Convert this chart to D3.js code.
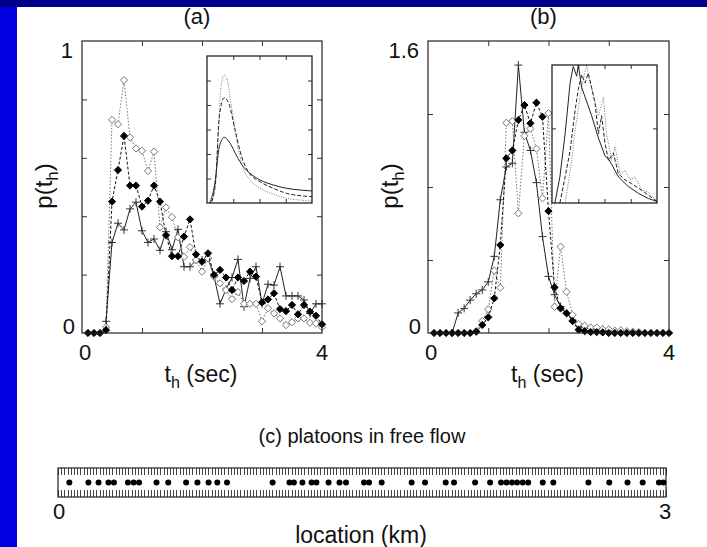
<!DOCTYPE html>
<html>
<head>
<meta charset="utf-8">
<script src="https://cdn.jsdelivr.net/npm/d3@7"></script>
<style>
  body { margin: 0; background: #fff; }
  svg { display: block; font-family: "Liberation Sans", Arial, sans-serif; }
</style>
</head>
<body>
<svg id="chart" width="707" height="547"></svg>
<script>
// ---- data ----

// headway bins (sec)
const binTimes = [0.1, 0.2, 0.3, 0.4, 0.5, 0.6, 0.7, 0.8, 0.9, 1.0,
  1.1, 1.2, 1.3, 1.4, 1.5, 1.6, 1.7, 1.8, 1.9, 2.0,
  2.1, 2.2, 2.3, 2.4, 2.5, 2.6, 2.7, 2.8, 2.9, 3.0,
  3.1, 3.2, 3.3, 3.4, 3.5, 3.6, 3.7, 3.8, 3.9, 4.0];

// panel (a)
const aPlus = [null, null, null, 0.04, 0.31, 0.376, 0.353, 0.425, 0.448, 0.35,
  0.31, 0.322, 0.283, 0.347, 0.285, 0.355, 0.227, 0.227, 0.25, 0.25,
  0.256, 0.195, 0.10, 0.15, 0.19, 0.252, 0.09, 0.187, 0.227, 0.10,
  0.167, 0.164, 0.227, 0.127, 0.127, 0.127, 0.113, 0.067, 0.10, 0.10];
const aOpen = [null, null, null, 0.02, 0.73, 0.715, 0.866, 0.67, 0.632, 0.624,
  0.555, 0.621, 0.362, 0.43, 0.397, 0.328, 0.261, 0.294, 0.25, 0.21,
  0.256, 0.193, 0.17, 0.147, 0.116, 0.14, 0.10, 0.10, 0.10, 0.04,
  0.085, 0.067, 0.05, 0.027, 0.037, 0.05, 0.05, 0.035, 0.033, 0.02];
const aFilled = [0, 0, 0, 0.01, 0.45, 0.558, 0.675, 0.505, 0.505, 0.433,
  0.453, 0.505, 0.45, 0.335, 0.263, 0.263, 0.33, 0.389, 0.269, 0.244,
  0.273, 0.199, 0.216, 0.19, 0.147, 0.19, 0.178, 0.21, 0.193, 0.105,
  0.115, 0.136, 0.082, 0.075, 0.096, 0.064, 0.096, 0.073, 0.059, 0.03];

// panel (b)
const bPlus = [null, null, null, 0, 0.11, 0.135, 0.18, 0.215, 0.236, 0.28,
  0.42, 0.73, 0.91, 0.93, 1.468, 1.10, 1.0, 0.824, 0.528, 0.31,
  0.21, 0.145, 0.108, 0.07, 0.04, 0.03, 0.025, 0.02, 0.02, 0.012,
  0.01, 0.008, 0.005, null, null, null, null, null, null, null];
const bOpen = [null, null, null, null, null, null, null, 0.01, 0.066, 0.13,
  0.342, 0.248, 1.152, 1.161, 0.656, 1.08, 1.12, 1.01, 0.738, 1.204,
  0.144, 0.473, 0.226, 0.099, 0.05, 0.04, 0.03, 0.03, 0.02, 0.02,
  0.012, 0.015, 0.01, 0.008, 0.005, null, null, null, null, null];
const bFilled = [0, 0, 0, 0, 0, 0, 0, 0.007, 0.044, 0.086,
  0.19, 0.482, 0.957, 1.0, 1.167, 1.249, 1.149, 1.262, 1.185, 0.668,
  0.25, 0.135, 0.108, 0.065, 0.018, 0.01, 0.005, 0.005, 0.003, 0,
  0, 0, 0, 0, 0, 0, 0, 0, 0, 0];

// inset of (a): smooth model curves
const inADotT = [0.11, 0.3, 0.43, 0.52, 0.65, 0.77, 0.94, 1.13, 1.38, 1.64, 2.02, 2.53, 3.03, 3.54, 4.0];
const inADotV = [0, 0.106, 0.569, 0.92, 1.045, 1.004, 0.773, 0.514, 0.283, 0.188, 0.12, 0.073, 0.038, 0.024, 0.016];
const inADashT = [0.18, 0.34, 0.47, 0.66, 0.85, 1.07, 1.32, 1.57, 2.02, 2.53, 3.03, 3.54, 4.0];
const inADashV = [0.01, 0.215, 0.705, 0.86, 0.80, 0.596, 0.378, 0.256, 0.174, 0.12, 0.079, 0.06, 0.052];
const inASolidT = [0.11, 0.3, 0.47, 0.66, 0.88, 1.13, 1.38, 1.64, 2.02, 2.53, 3.03, 3.54, 4.0];
const inASolidV = [0, 0.16, 0.46, 0.536, 0.487, 0.384, 0.297, 0.242, 0.188, 0.147, 0.12, 0.106, 0.098];

// inset of (b): noisy curves
const inBSolidT = [0.11, 0.3, 0.5, 0.69, 0.81, 0.94, 1.0, 1.13, 1.26, 1.51, 1.77, 2.02, 2.15, 2.27, 2.53, 2.91, 3.29, 3.67, 4.0];
const inBSolidV = [0, 0.35, 0.93, 1.61, 1.83, 1.70, 1.85, 1.55, 1.42, 1.17, 0.87, 0.63, 0.59, 0.52, 0.35, 0.22, 0.13, 0.06, 0.02];
const inBDashT = [0.3, 0.5, 0.69, 0.88, 1.0, 1.13, 1.26, 1.38, 1.51, 1.64, 1.77, 1.89, 2.02, 2.15, 2.34, 2.53, 2.78, 3.03, 3.42, 4.0];
const inBDashV = [0, 0.35, 0.70, 1.24, 1.52, 1.72, 1.61, 1.74, 1.55, 1.33, 0.93, 1.17, 0.80, 0.57, 0.67, 0.39, 0.31, 0.26, 0.17, 0.02];
const inBDotT = [0.5, 0.62, 0.75, 0.88, 1.07, 1.19, 1.32, 1.45, 1.57, 1.77, 1.96, 2.08, 2.27, 2.4, 2.59, 2.78, 2.97, 3.16, 3.42, 3.67, 4.0];
const inBDotV = [0, 0.26, 0.57, 0.98, 1.42, 1.65, 1.85, 1.61, 1.46, 1.17, 1.42, 0.93, 0.57, 0.76, 0.39, 0.44, 0.31, 0.35, 0.17, 0.15, 0.02];

// (c) vehicle positions along the road (km)
const carLocations = [0.056, 0.150, 0.200, 0.249, 0.276, 0.345, 0.373, 0.400, 0.486, 0.544,
  0.632, 0.688, 0.743, 0.786, 0.834, 1.059, 1.142, 1.164, 1.206, 1.251,
  1.275, 1.335, 1.389, 1.421, 1.510, 1.535, 1.597, 1.745, 1.811, 1.913,
  1.954, 2.058, 2.132, 2.186, 2.213, 2.240, 2.265, 2.293, 2.320, 2.392,
  2.444, 2.617, 2.720, 2.810, 2.885, 2.965, 2.987];

// ---- drawing ----

let svg = d3.select('#chart');

svg.append('rect').attr('width', 707).attr('height', 547).attr('fill', '#fff');
svg.append('rect').attr('width', 17).attr('height', 547).attr('fill', '#0000e0');
svg.append('rect').attr('width', 707).attr('height', 7).attr('fill', '#00008c');

const diamondPath = 'M0,-3.6L3.6,0L0,3.6L-3.6,0Z';
const plusPath = 'M-4,0H4M0,-4V4';

function zip(ts, vs) {
  return ts.map((t, i) => ({ t: t, v: vs[i] }));
}

function addTicks(g, x, y, box, xt, yt, len) {
  let axes = [
    [d3.axisBottom(x).tickValues(xt), `translate(0,${box.bottom})`],
    [d3.axisTop(x).tickValues(xt), `translate(0,${box.top})`],
    [d3.axisLeft(y).tickValues(yt), `translate(${box.left},0)`],
    [d3.axisRight(y).tickValues(yt), `translate(${box.right},0)`]
  ];
  for (let [ax, tr] of axes) {
    g.append('g')
      .attr('transform', tr)
      .call(ax.tickSize(-len).tickFormat(''))
      .call(s => s.select('.domain').remove())
      .call(s => s.selectAll('line').attr('stroke', '#333').attr('stroke-width', 1));
  }
}

function subLabel(g, x, y, pre, sub, post, rotate, size) {
  let t = g.append('text')
    .attr('x', x).attr('y', y)
    .attr('text-anchor', 'middle')
    .attr('font-size', size)
    .attr('fill', '#111');
  if (rotate) t.attr('transform', `rotate(-90,${x},${y})`);
  t.append('tspan').text(pre);
  t.append('tspan').attr('font-size', size * 0.7).attr('dy', 6).text(sub);
  t.append('tspan').attr('dy', -6).text(post);
}

function drawInset(g, box, yMax, yTicks, curves) {
  let x = d3.scaleLinear().domain([0, 4]).range([box.left, box.right]);
  let y = d3.scaleLinear().domain([0, yMax]).range([box.bottom, box.top]);

  g.append('rect')
    .attr('x', box.left).attr('y', box.top)
    .attr('width', box.right - box.left).attr('height', box.bottom - box.top)
    .attr('fill', '#fff');

  let clipId = 'clip' + Math.round(box.left);
  g.append('clipPath').attr('id', clipId)
    .append('rect')
    .attr('x', box.left).attr('y', box.top)
    .attr('width', box.right - box.left).attr('height', box.bottom - box.top);

  for (let c of curves) {
    let line = d3.line()
      .x(d => x(d.t))
      .y(d => y(d.v))
      .curve(c.curve);
    g.append('path')
      .datum(zip(c.t, c.v))
      .attr('clip-path', `url(#${clipId})`)
      .attr('fill', 'none')
      .attr('stroke', c.stroke)
      .attr('stroke-width', 1)
      .attr('stroke-dasharray', c.dash)
      .attr('d', line);
  }

  addTicks(g, x, y, box, [1, 2, 3], yTicks, 4);

  g.append('rect')
    .attr('x', box.left).attr('y', box.top)
    .attr('width', box.right - box.left).attr('height', box.bottom - box.top)
    .attr('fill', 'none')
    .attr('stroke', '#222')
    .attr('stroke-width', 1.3);
}

function drawPanel(p) {
  let x = d3.scaleLinear().domain([0, 4]).range([p.left, p.right]);
  let y = d3.scaleLinear().domain([0, p.yMax]).range([p.bottom, p.top]);
  let g = svg.append('g');

  let yTicks = d3.range(1, 4).map(i => i * p.yMax / 4);
  if (p.yMax === 1) yTicks = [0.2, 0.4, 0.6, 0.8];

  addTicks(g, x, y, p, [1, 2, 3], yTicks, 5);

  // data series: solid/plus, dotted/open diamond, dashed/filled diamond
  for (let s of p.series) {
    let pts = zip(binTimes, s.vals);
    let line = d3.line()
      .defined(d => d.v !== null)
      .x(d => x(d.t))
      .y(d => y(d.v));
    g.append('path')
      .datum(pts)
      .attr('fill', 'none')
      .attr('stroke', s.stroke)
      .attr('stroke-width', 1)
      .attr('stroke-dasharray', s.dash)
      .attr('d', line);

    g.selectAll(null)
      .data(pts.filter(d => d.v !== null))
      .enter().append('path')
      .attr('transform', d => `translate(${x(d.t)},${y(d.v)})`)
      .attr('d', s.marker === 'plus' ? plusPath : diamondPath)
      .attr('fill', s.marker === 'filled' ? '#000' : (s.marker === 'open' ? '#fff' : 'none'))
      .attr('stroke', s.marker === 'filled' ? '#000' : s.markerStroke)
      .attr('stroke-width', 1);
  }

  drawInset(g, p.inset, p.inset.yMax, p.inset.yTicks, p.inset.curves);

  g.append('rect')
    .attr('x', p.left).attr('y', p.top)
    .attr('width', p.right - p.left).attr('height', p.bottom - p.top)
    .attr('fill', 'none')
    .attr('stroke', '#222')
    .attr('stroke-width', 1.2);

  // labels
  g.append('text')
    .attr('x', (p.left + p.right) / 2 - 5).attr('y', 24)
    .attr('text-anchor', 'middle').attr('font-size', 22).attr('fill', '#111')
    .text(p.title);
  g.append('text')
    .attr('x', p.left - 9).attr('y', p.top + 17)
    .attr('text-anchor', 'end').attr('font-size', 22).attr('fill', '#111')
    .text(p.yMaxLabel);
  g.append('text')
    .attr('x', p.left - 7).attr('y', p.bottom + 1)
    .attr('text-anchor', 'end').attr('font-size', 22).attr('fill', '#111')
    .text('0');
  g.append('text')
    .attr('x', x(0) + 3).attr('y', p.bottom + 27)
    .attr('text-anchor', 'middle').attr('font-size', 22).attr('fill', '#111')
    .text('0');
  g.append('text')
    .attr('x', x(4)).attr('y', p.bottom + 27)
    .attr('text-anchor', 'middle').attr('font-size', 22).attr('fill', '#111')
    .text('4');

  subLabel(g, (p.left + p.right) / 2 - 1, 382, 't', 'h', ' (sec)', false, 23);
  subLabel(g, p.yLabelX, 186, 'p(t', 'h', ')', true, 24);
}

const solidStyle = { stroke: '#222', dash: null, marker: 'plus', markerStroke: '#333' };
const dotStyle = { stroke: '#777', dash: '1.5,1.8', marker: 'open', markerStroke: '#777' };
const dashStyle = { stroke: '#111', dash: '3,2', marker: 'filled', markerStroke: '#000' };

drawPanel({
  title: '(a)', left: 82, right: 322, top: 41, bottom: 333,
  yMax: 1, yMaxLabel: '1', yLabelX: 52,
  series: [
    Object.assign({ vals: aPlus }, solidStyle),
    Object.assign({ vals: aOpen }, dotStyle),
    Object.assign({ vals: aFilled }, dashStyle)
  ],
  inset: {
    left: 207, right: 312, top: 56, bottom: 203,
    yMax: 1.2, yTicks: [0.2, 0.4, 0.6, 0.8, 1.0],
    curves: [
      { t: inADotT, v: inADotV, stroke: '#777', dash: '1,1.5', curve: d3.curveMonotoneX },
      { t: inADashT, v: inADashV, stroke: '#222', dash: '4,2', curve: d3.curveMonotoneX },
      { t: inASolidT, v: inASolidV, stroke: '#222', dash: null, curve: d3.curveMonotoneX }
    ]
  }
});

drawPanel({
  title: '(b)', left: 428, right: 669, top: 41, bottom: 333,
  yMax: 1.6, yMaxLabel: '1.6', yLabelX: 398,
  series: [
    Object.assign({ vals: bPlus }, solidStyle),
    Object.assign({ vals: bOpen }, dotStyle),
    Object.assign({ vals: bFilled }, dashStyle)
  ],
  inset: {
    left: 552, right: 657, top: 65, bottom: 203,
    yMax: 1.85, yTicks: [1],
    curves: [
      { t: inBDotT, v: inBDotV, stroke: '#777', dash: '1,1.5', curve: d3.curveLinear },
      { t: inBDashT, v: inBDashV, stroke: '#222', dash: '4,2', curve: d3.curveLinear },
      { t: inBSolidT, v: inBSolidV, stroke: '#222', dash: null, curve: d3.curveLinear }
    ]
  }
});

// (c) platoons strip
let road = { left: 58, right: 666, top: 468, bottom: 497 };
let xr = d3.scaleLinear().domain([0, 3]).range([road.left, road.right]);
let gc = svg.append('g');

gc.append('text')
  .attr('x', 362).attr('y', 443)
  .attr('text-anchor', 'middle').attr('font-size', 20).attr('fill', '#111')
  .text('(c) platoons in free flow');

let cellTicks = d3.range(0, 191).map(i => i * 3 / 190);
gc.append('g')
  .attr('transform', `translate(0,${road.top})`)
  .call(d3.axisBottom(xr).tickValues(cellTicks).tickSize(7).tickFormat(''))
  .call(s => s.select('.domain').remove())
  .call(s => s.selectAll('line').attr('stroke', '#444').attr('stroke-width', 1)
    .attr('shape-rendering', 'crispEdges'));
gc.append('g')
  .attr('transform', `translate(0,${road.bottom})`)
  .call(d3.axisTop(xr).tickValues(cellTicks).tickSize(7).tickFormat(''))
  .call(s => s.select('.domain').remove())
  .call(s => s.selectAll('line').attr('stroke', '#444').attr('stroke-width', 1)
    .attr('shape-rendering', 'crispEdges'));

gc.append('rect')
  .attr('x', road.left).attr('y', road.top)
  .attr('width', road.right - road.left).attr('height', road.bottom - road.top)
  .attr('fill', 'none').attr('stroke', '#222').attr('stroke-width', 1.2);

gc.selectAll('.car')
  .data(carLocations)
  .enter().append('circle')
  .attr('class', 'car')
  .attr('cx', d => xr(d))
  .attr('cy', (road.top + road.bottom) / 2)
  .attr('r', 3)
  .attr('fill', '#000');

gc.append('text')
  .attr('x', xr(0) + 1).attr('y', 519)
  .attr('text-anchor', 'middle').attr('font-size', 22).attr('fill', '#111')
  .text('0');
gc.append('text')
  .attr('x', xr(3) - 1).attr('y', 519)
  .attr('text-anchor', 'middle').attr('font-size', 22).attr('fill', '#111')
  .text('3');
gc.append('text')
  .attr('x', 361).attr('y', 543)
  .attr('text-anchor', 'middle').attr('font-size', 23).attr('fill', '#111')
  .text('location (km)');
</script>
</body>
</html>
